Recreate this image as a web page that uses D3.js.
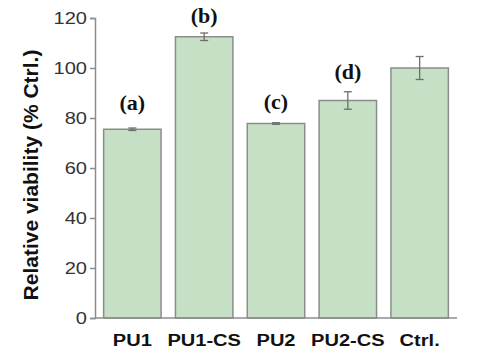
<!DOCTYPE html>
<html>
<head>
<meta charset="utf-8">
<script src="https://cdn.jsdelivr.net/npm/d3@7"></script>
<style>
  body { margin: 0; background: #fff; }
</style>
</head>
<body>
<div id="chart"></div>
<script>
var groups = ['PU1', 'PU1-CS', 'PU2', 'PU2-CS', 'Ctrl.'];
var viability = [75.5, 112.5, 77.8, 87, 100];
var errors = [0.5, 1.5, 0.3, 3.5, 4.6];
var letters = ['(a)', '(b)', '(c)', '(d)', ''];
// height (in % units) where each letter sits
var letterAt = [83.2, 118, 83.6, 95.6, 0];
var yTicks = [0, 20, 40, 60, 80, 100, 120];

var svg = d3.select('#chart')
    .append('svg')
    .attr('width', 483)
    .attr('height', 349);

var x = d3.scaleBand()
    .domain(groups)
    .range([95, 457])
    .paddingInner(0.2)
    .paddingOuter(0.12);

var y = d3.scaleLinear()
    .domain([0, 120])
    .range([318, 18]);

// bars
svg.selectAll('rect.bar')
    .data(groups)
    .enter()
    .append('rect')
    .attr('class', 'bar')
    .attr('x', d => x(d))
    .attr('width', x.bandwidth())
    .attr('y', (d, i) => y(viability[i]))
    .attr('height', (d, i) => y(0) - y(viability[i]))
    .attr('fill', '#c6e0c6')
    .attr('stroke', '#8c8c8c')
    .attr('stroke-width', 1.5);

// error bars
var err = svg.append('g')
    .attr('stroke', '#6e6e6e')
    .attr('stroke-width', 1.3);

groups.forEach((g, i) => {
    var cx = x(g) + x.bandwidth() / 2;
    var hi = y(viability[i] + errors[i]);
    var lo = y(viability[i] - errors[i]);
    err.append('line').attr('x1', cx).attr('x2', cx).attr('y1', hi).attr('y2', lo);
    err.append('line').attr('x1', cx - 4).attr('x2', cx + 4).attr('y1', hi).attr('y2', hi);
    err.append('line').attr('x1', cx - 4).attr('x2', cx + 4).attr('y1', lo).attr('y2', lo);
});

// significance letters
svg.selectAll('text.letter')
    .data(groups)
    .enter()
    .append('text')
    .attr('class', 'letter')
    .attr('x', d => x(d) + x.bandwidth() / 2)
    .attr('y', (d, i) => y(letterAt[i]))
    .attr('text-anchor', 'middle')
    .attr('font-family', 'Liberation Serif, Times New Roman, serif')
    .attr('font-weight', 'bold')
    .attr('font-size', 22)
    .attr('fill', '#111')
    .text((d, i) => letters[i]);

// y axis
var yAxis = svg.append('g')
    .attr('transform', 'translate(95,0)')
    .call(d3.axisLeft(y).tickValues(yTicks).tickSize(5));

yAxis.select('.domain').attr('stroke', '#8c8c8c').attr('stroke-width', 1.5);
yAxis.selectAll('.tick line').attr('stroke', '#8c8c8c').attr('stroke-width', 1.5);
yAxis.selectAll('.tick text')
    .attr('font-family', 'Liberation Sans, Arial, sans-serif')
    .attr('font-size', 17)
    .attr('fill', '#333')
    .attr('x', -8 / 1.18)
    .attr('transform', 'scale(1.18,1)');

// x axis line
svg.append('line')
    .attr('x1', 95)
    .attr('x2', 457)
    .attr('y1', y(0))
    .attr('y2', y(0))
    .attr('stroke', '#8c8c8c')
    .attr('stroke-width', 1.5);

// x labels
svg.selectAll('g.xlab')
    .data(groups)
    .enter()
    .append('g')
    .attr('class', 'xlab')
    .attr('transform', d => `translate(${x(d) + x.bandwidth() / 2},346)`)
    .append('text')
    .attr('transform', 'scale(1.18,1)')
    .attr('text-anchor', 'middle')
    .attr('font-family', 'Liberation Sans, Arial, sans-serif')
    .attr('font-weight', 'bold')
    .attr('font-size', 17)
    .attr('fill', '#111')
    .text(d => d);

// y title
svg.append('text')
    .attr('transform', 'translate(38,175) rotate(-90)')
    .attr('text-anchor', 'middle')
    .attr('font-family', 'Liberation Sans, Arial, sans-serif')
    .attr('font-weight', 'bold')
    .attr('font-size', 21)
    .attr('fill', '#111')
    .text('Relative viability (% Ctrl.)');
</script>
</body>
</html>
